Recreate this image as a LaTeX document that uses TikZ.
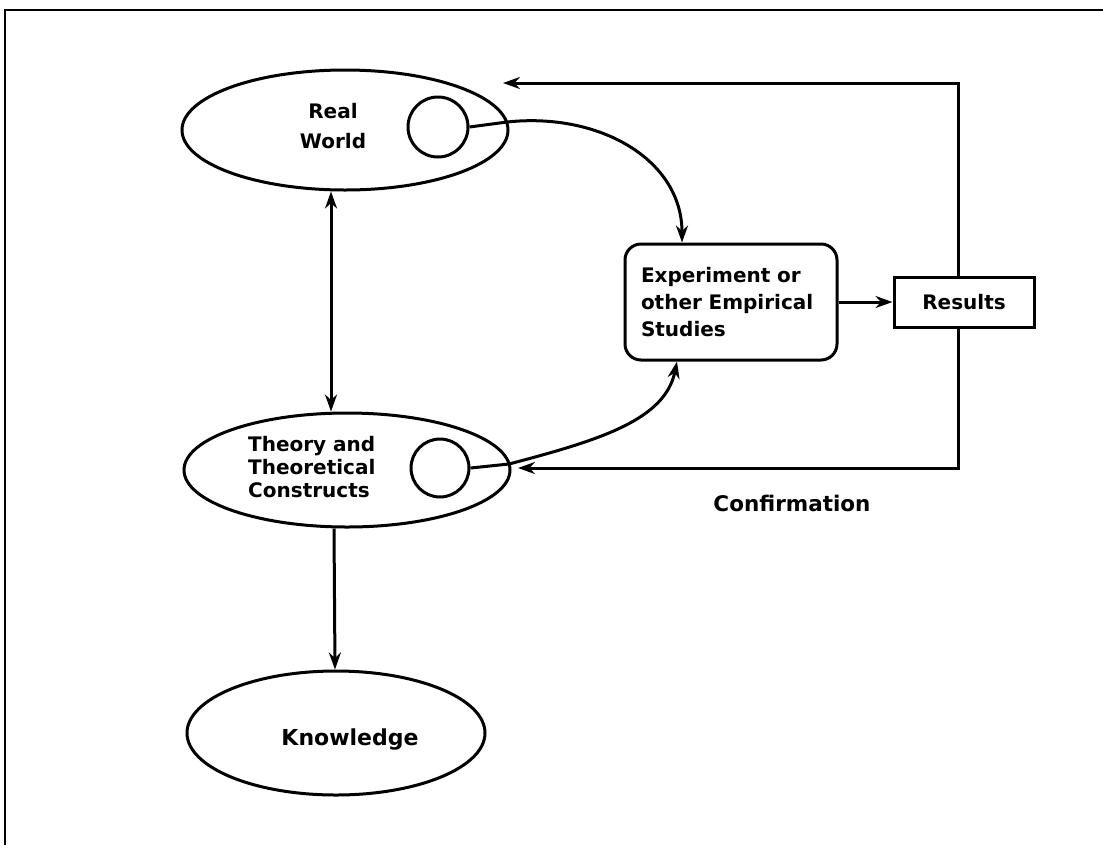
\documentclass[tikz,border=0pt]{standalone}
\usepackage{fontspec}
\setmainfont{DejaVu Sans}
\usetikzlibrary{arrows.meta,shapes.geometric}

\tikzset{
  ink/.style={line width=3pt, draw=black},
  oval/.style={ink, ellipse, inner sep=0pt},
  port/.style={ink, circle, minimum size=60pt, inner sep=0pt},
  label/.style={font=\bfseries\fontsize{20}{27}\selectfont, inner sep=0pt},
  tip/.tip={Stealth[length=17pt,width=12pt]},
  flow/.style={ink, -tip},
  both/.style={ink, tip-tip},
}

\begin{document}
\begin{tikzpicture}[x=1pt,y=-1pt]
\useasboundingbox (0,0) rectangle (1103,847);

% outer frame: top and left edges only
\draw[line width=2.5pt] (1103,10) -- (5,10) -- (5,845);

% ovals
\node[oval, minimum width=326pt, minimum height=120pt] (rw) at (345,130) {};
\node[port] (rwc) at (438,127) {};
\node[label, align=center, font=\bfseries\fontsize{20}{30}\selectfont] (rwt) at (333,126) {Real\\World};

\node[oval, minimum width=326pt, minimum height=114pt] (th) at (347,470) {};
\node[port, minimum size=58pt] (thc) at (440,468) {};
\node[label, align=left, anchor=west, font=\bfseries\fontsize{20}{23}\selectfont] (tht) at (248,467) {Theory and\\Theoretical\\Constructs};

\node[oval, minimum width=298pt, minimum height=124pt] (kn) at (336,733) {};
\node[label, font=\bfseries\fontsize{22}{27}\selectfont] (knt) at (350,740) {Knowledge};

% experiment and results boxes
\node[ink, rounded corners=16pt, minimum width=212pt, minimum height=116pt,
      label, align=left, text width=180pt, inner sep=0pt] (exp) at (731,302)
      {Experiment or\\other Empirical\\Studies};
\node[ink, minimum width=140pt, minimum height=50pt, label] (res) at (964,302) {Results};

% connector ends
\coordinate (rwx) at (507,122);
\coordinate (thx) at (509,464);
\coordinate (topin) at (503,83);
\coordinate (confin) at (518,468);

% real world -> experiment
\draw[ink] (rwc.east) -- (rwx);
\draw[flow] (rwx) .. controls (600,112) and (682,160) .. ([xshift=-49pt]exp.north);

% theory -> experiment
\draw[ink] (thc.east) -- (thx);
\draw[flow] (thx) .. controls (600,440) and (665,420) .. ([xshift=-54pt]exp.south);

% experiment -> results
\draw[flow] (exp.east) -- (res.west);

% feedback from results
\draw[flow] ([xshift=-6pt]res.north) |- (topin);
\draw[flow] ([xshift=-6pt]res.south) |- (confin);
\node[label, font=\bfseries\fontsize{21.5}{27}\selectfont] (conf) at (792,503) {Confirmation};

% real world <-> theory, theory -> knowledge
\draw[both] ([xshift=-14pt]rw.south) -- ([xshift=-16pt]th.north);
\draw[flow] ([xshift=-13pt]th.south) -- ([xshift=-1pt]kn.north);
\end{tikzpicture}
\end{document}
